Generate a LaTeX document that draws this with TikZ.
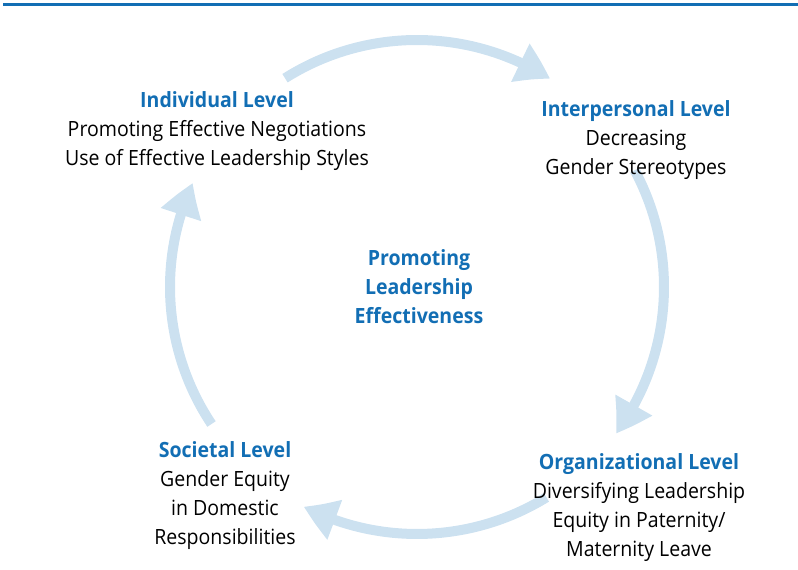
\documentclass[tikz,border=0pt]{standalone}
\usepackage{fontspec}
\setmainfont{Open Sans}[FakeStretch=0.93]
\usetikzlibrary{arrows.meta,bending}
\definecolor{hblue}{RGB}{18,110,180}
\definecolor{ringblue}{RGB}{204,225,240}
\begin{document}
\begin{tikzpicture}[x=1pt,y=1pt,
  ring/.style={draw=ringblue,line width=10pt,-{Triangle[length=34pt,width=40pt,bend,color=ringblue]}},
  txt/.style={align=center,inner sep=0pt,font=\fontsize{21}{29}\selectfont},
  head/.style={font=\bfseries,text=hblue}]
\useasboundingbox (0,0) rectangle (798,570);
\fill[hblue] (3,563.5) rectangle (798,566.5);
\coordinate (c) at (417,283);
\coordinate (a1) at ([shift={(122.3:247pt)}]c);
\coordinate (a2) at ([shift={(28.2:247pt)}]c);
\coordinate (a3) at ([shift={(-58.4:247pt)}]c);
\coordinate (a4) at ([shift={(213.7:247pt)}]c);
\draw[ring] (a1) arc[start angle=122.3,end angle=57.4,radius=247pt];
\draw[ring] (a2) arc[start angle=28.2,end angle=-36.4,radius=247pt];
\draw[ring] (a3) arc[start angle=-58.4,end angle=-117.3,radius=247pt];
\draw[ring] (a4) arc[start angle=213.7,end angle=155.1,radius=247pt];
\node[txt] (ind) at (217,438.5) {{\bfseries\color{hblue}Individual Level}\\Promoting Effective Negotiations\\Use of Effective Leadership Styles};
\node[txt] (inter) at (636,430) {{\bfseries\color{hblue}Interpersonal Level}\\Decreasing\\Gender Stereotypes};
\node[txt,text=hblue,font=\fontsize{21}{29}\selectfont\bfseries] (mid) at (419,283) {Promoting\\Leadership\\Effectiveness};
\node[txt] (soc) at (225,74) {{\bfseries\color{hblue}Societal Level}\\Gender Equity\\in Domestic\\Responsibilities};
\node[txt] (org) at (639,62.5) {{\bfseries\color{hblue}Organizational Level}\\Diversifying Leadership\\Equity in Paternity/\\Maternity Leave};
\end{tikzpicture}
\end{document}
